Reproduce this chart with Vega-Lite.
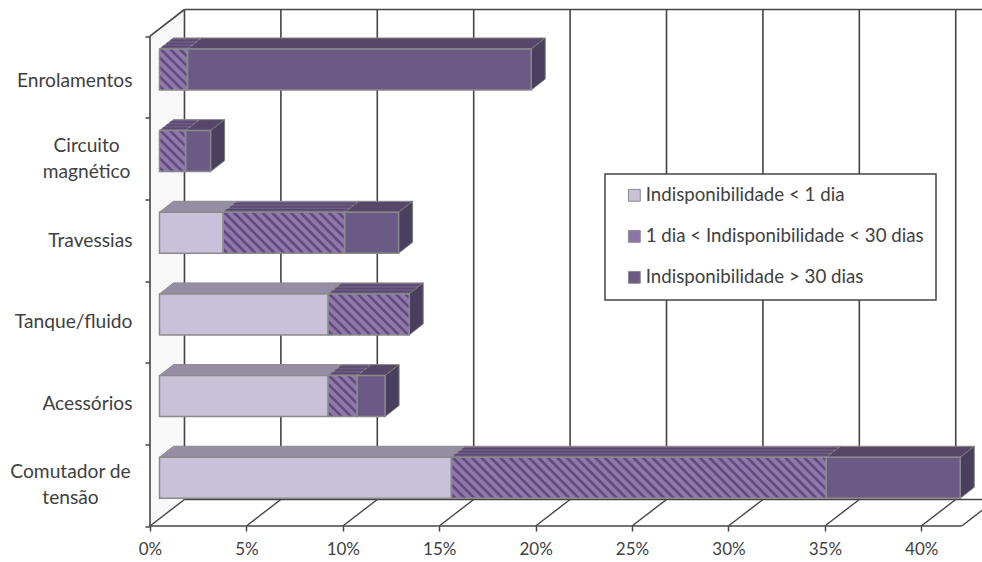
{
"$schema":"https://vega.github.io/schema/vega-lite/v6.json",
"width":832,"height":516.5,"autosize":"none",
"padding":{"left":150,"top":9.5,"right":0,"bottom":36},
"background":"white",
"config":{"view":{"stroke":null},"font":"Lato"},
"data":{"values":[
{"categoria":"Enrolamentos","classe":"1 dia < Indisponibilidade < 30 dias","valor":1.45},
{"categoria":"Enrolamentos","classe":"Indisponibilidade > 30 dias","valor":17.83},
{"categoria":"Circuito magnético","classe":"1 dia < Indisponibilidade < 30 dias","valor":1.35},
{"categoria":"Circuito magnético","classe":"Indisponibilidade > 30 dias","valor":1.3},
{"categoria":"Travessias","classe":"Indisponibilidade < 1 dia","valor":3.3},
{"categoria":"Travessias","classe":"1 dia < Indisponibilidade < 30 dias","valor":6.3},
{"categoria":"Travessias","classe":"Indisponibilidade > 30 dias","valor":2.8},
{"categoria":"Tanque/fluido","classe":"Indisponibilidade < 1 dia","valor":8.75},
{"categoria":"Tanque/fluido","classe":"1 dia < Indisponibilidade < 30 dias","valor":4.2},
{"categoria":"Acessórios","classe":"Indisponibilidade < 1 dia","valor":8.75},
{"categoria":"Acessórios","classe":"1 dia < Indisponibilidade < 30 dias","valor":1.5},
{"categoria":"Acessórios","classe":"Indisponibilidade > 30 dias","valor":1.45},
{"categoria":"Comutador de tensão","classe":"Indisponibilidade < 1 dia","valor":15.14},
{"categoria":"Comutador de tensão","classe":"1 dia < Indisponibilidade < 30 dias","valor":19.44},
{"categoria":"Comutador de tensão","classe":"Indisponibilidade > 30 dias","valor":6.95}
]},
"transform":[
{"calculate":"indexof(['Indisponibilidade < 1 dia','1 dia < Indisponibilidade < 30 dias','Indisponibilidade > 30 dias'],datum.classe)","as":"ordem"},
{"stack":"valor","groupby":["categoria"],"sort":[{"field":"ordem","order":"ascending"}],"as":["ini","fim"]},
{"joinaggregate":[{"op":"max","field":"fim","as":"total"}],"groupby":["categoria"]},
{"calculate":"5-indexof(['Enrolamentos','Circuito magnético','Travessias','Tanque/fluido','Acessórios','Comutador de tensão'],datum.categoria)","as":"linha"},
{"calculate":"datum.ini+0.4925","as":"xa"},
{"calculate":"datum.fim+0.4925","as":"xb"},
{"calculate":"datum.linha+0.3399","as":"yb"},
{"calculate":"datum.yb+0.502","as":"yt"},
{"calculate":"datum.categoria+datum.ordem","as":"chave"}
],
"layer":[
{"data":{"values":[{"d":0},{"d":1}]},
 "transform":[{"calculate":"datum.d*1.788","as":"px"},{"calculate":"datum.d*0.325","as":"py"},{"calculate":"6+datum.d*0.325","as":"py2"}],
 "mark":{"type":"area","orient":"vertical","fill":"#f8f8f8"},
 "encoding":{
  "x":{"field":"px","type":"quantitative","scale":{"domain":[0,43.15],"nice":false,"zero":false},
   "axis":{"title":null,"values":[0,5,10,15,20,25,30,35,40],"labelExpr":"datum.value+'%'","domain":false,"grid":false,"tickSize":5,"tickColor":"#444444","tickWidth":1.5,"labelFontSize":17,"labelColor":"#404040","labelPadding":10,"labelFlush":false,"labelBound":false,"labelOverlap":false}},
  "y":{"field":"py","type":"quantitative","scale":{"domain":[0,6.325],"nice":false,"zero":false},
   "axis":{"title":null,"values":[0,1,1.5,2,2.5,3,3.5,4,5,5.46,6],"labelExpr":"datum.value==5.46?'Enrolamentos':datum.value==3.5?'Travessias':datum.value==2.5?'Tanque/fluido':datum.value==1.5?'Acessórios':''","domain":false,"grid":false,"tickSize":5,"tickColor":"#444444","tickWidth":1.5,"tickOpacity":{"condition":{"test":"datum.value%1==0","value":1},"value":0},"labelFontSize":19.2,"labelColor":"#404040","labelPadding":13,"labelOverlap":false,"labelBound":false,"labelFlush":false,"labelLimit":200}},
  "y2":{"field":"py2"}
 }},
{"data":{"values":[{"v":0},{"v":5},{"v":10},{"v":15},{"v":20},{"v":25},{"v":30},{"v":35},{"v":40}]},
 "transform":[{"calculate":"datum.v+1.788","as":"fundo"}],
 "mark":{"type":"rule","stroke":"#444444","strokeWidth":1.6},
 "encoding":{"x":{"field":"fundo","type":"quantitative"},"y":{"datum":0.325},"y2":{"datum":6.325}}},
{"data":{"values":[{"v":0},{"v":5},{"v":10},{"v":15},{"v":20},{"v":25},{"v":30},{"v":35},{"v":40}]},
 "transform":[{"calculate":"datum.v+1.788","as":"fundo"}],
 "mark":{"type":"rule","stroke":"#444444","strokeWidth":1.4},
 "encoding":{"x":{"field":"v","type":"quantitative"},"x2":{"field":"fundo"},"y":{"datum":0},"y2":{"datum":0.325}}},
{"data":{"values":[{}]},"mark":{"type":"rule","stroke":"#444444","strokeWidth":1.6},
 "encoding":{"x":{"datum":0},"y":{"datum":0},"y2":{"datum":6}}},
{"data":{"values":[{}]},"mark":{"type":"rule","stroke":"#444444","strokeWidth":1.6},
 "encoding":{"x":{"datum":0},"x2":{"datum":1.788},"y":{"datum":6},"y2":{"datum":6.325}}},
{"data":{"values":[{}]},"mark":{"type":"rule","stroke":"#444444","strokeWidth":1.6},
 "encoding":{"x":{"datum":1.788},"x2":{"datum":43.15},"y":{"datum":6.325},"y2":{"datum":6.325}}},
{"data":{"values":[{}]},"mark":{"type":"rule","stroke":"#444444","strokeWidth":1.6},
 "encoding":{"x":{"datum":1.788},"x2":{"datum":43.15},"y":{"datum":0.325},"y2":{"datum":0.325}}},
{"data":{"values":[{}]},"mark":{"type":"rule","stroke":"#444444","strokeWidth":1.6},
 "encoding":{"x":{"datum":0},"x2":{"datum":42.1},"y":{"datum":0},"y2":{"datum":0}}},
{"data":{"values":[{}]},"mark":{"type":"rule","stroke":"#444444","strokeWidth":1.4,"clip":true},
 "encoding":{"x":{"datum":42.1},"x2":{"datum":43.888},"y":{"datum":0},"y2":{"datum":0.325}}},
{"transform":[{"calculate":"[0,1]","as":"t"},{"flatten":["t"]},
  {"calculate":"datum.xa+datum.t*0.7258","as":"tx"},{"calculate":"datum.xb+datum.t*0.7258","as":"tx2"},{"calculate":"datum.yt+datum.t*0.1347","as":"ty"}],
 "mark":{"type":"area","orient":"horizontal","stroke":"#8a8a8a","strokeWidth":1},
 "encoding":{"x":{"field":"tx","type":"quantitative"},"x2":{"field":"tx2"},"y":{"field":"ty","type":"quantitative"},"detail":{"field":"chave"},
  "fill":{"condition":[{"test":"datum.ordem==0","value":"#958da3"},{"test":"datum.ordem==1","value":"#6f5d84"}],"value":"#564668"}}},
{"transform":[{"filter":"datum.ordem==1"},{"calculate":"[0.22,0.5,0.78]","as":"t"},{"flatten":["t"]},
  {"calculate":"datum.xa+datum.t*0.7258","as":"tx"},{"calculate":"datum.xb+datum.t*0.7258","as":"tx2"},{"calculate":"datum.yt+datum.t*0.1347","as":"ty"}],
 "mark":{"type":"rule","stroke":"#5a4a70","strokeWidth":1.5},
 "encoding":{"x":{"field":"tx","type":"quantitative"},"x2":{"field":"tx2"},"y":{"field":"ty","type":"quantitative"},"y2":{"field":"ty"}}},
{"transform":[{"filter":"datum.fim==datum.total"},{"calculate":"[0,1]","as":"t"},{"flatten":["t"]},
  {"calculate":"datum.xb+datum.t*0.7258","as":"sx"},{"calculate":"datum.yb+datum.t*0.1347","as":"sy"},{"calculate":"datum.yt+datum.t*0.1347","as":"sy2"}],
 "mark":{"type":"area","orient":"vertical","fill":"#4a3f5e","stroke":"#7a7a7a","strokeWidth":1},
 "encoding":{"x":{"field":"sx","type":"quantitative"},"y":{"field":"sy","type":"quantitative"},"y2":{"field":"sy2"},"detail":{"field":"categoria"}}},
{"transform":[{"filter":"datum.ordem==1"}],
 "mark":{"type":"rect","fill":"#9078ab"},
 "encoding":{"x":{"field":"xa","type":"quantitative"},"x2":{"field":"xb"},"y":{"field":"yb","type":"quantitative"},"y2":{"field":"yt"}}},
{"transform":[{"filter":"datum.ordem==1"},
  {"calculate":"[0,1,2,3,4,5,6,7,8,9,10,11,12,13,14,15,16,17,18,19,20,21,22,23,24,25,26,27,28,29,30,31,32,33,34,35,36,37,38,39,40,41,42,43,44,45]","as":"k"},{"flatten":["k"]},
  {"calculate":"(datum.xb-datum.xa)*19.28","as":"w"},
  {"calculate":"datum.k*9.5+4-41","as":"c"},
  {"filter":"datum.c<datum.w"},
  {"calculate":"max(0,-datum.c)","as":"s1"},
  {"calculate":"min(41,datum.w-datum.c)","as":"s2"},
  {"calculate":"datum.xa+(datum.c+datum.s1)/19.28","as":"hx"},
  {"calculate":"datum.xa+(datum.c+datum.s2)/19.28","as":"hx2"},
  {"calculate":"datum.yt-datum.s1/81.66","as":"hy"},
  {"calculate":"datum.yt-datum.s2/81.66","as":"hy2"}],
 "mark":{"type":"rule","stroke":"#604c80","strokeWidth":2.6},
 "encoding":{"x":{"field":"hx","type":"quantitative"},"x2":{"field":"hx2"},"y":{"field":"hy","type":"quantitative"},"y2":{"field":"hy2"}}},
{"transform":[{"filter":"datum.ordem!=1"}],
 "mark":{"type":"rect"},
 "encoding":{"x":{"field":"xa","type":"quantitative"},"x2":{"field":"xb"},"y":{"field":"yb","type":"quantitative"},"y2":{"field":"yt"},
  "fill":{"field":"classe","type":"nominal",
   "scale":{"domain":["Indisponibilidade < 1 dia","1 dia < Indisponibilidade < 30 dias","Indisponibilidade > 30 dias"],
    "range":["#c9c0da","#8c76a8","#6b5a85"]},
   "legend":{"title":null,"orient":"none","legendX":455,"legendY":164.5,"padding":12,"fillColor":"white","strokeColor":"#444444","symbolType":"square","symbolSize":140,"symbolOffset":8,"symbolStrokeColor":"#8a8a8a","symbolStrokeWidth":1,"labelFontSize":18.7,"labelColor":"#404040","labelOffset":2,"rowPadding":21,"labelLimit":400,
    "encoding":{"legend":{"strokeWidth":{"value":1.5}},"symbols":{"stroke":{"value":"#8a8a8a"},"strokeWidth":{"value":1},"fill":{"condition":[{"test":"datum.value=='Indisponibilidade < 1 dia'","value":"#c9c0da"},{"test":"datum.value=='1 dia < Indisponibilidade < 30 dias'","value":{"gradient":"linear","x1":0,"y1":1,"x2":1,"y2":0,"stops":[{"offset":0,"color":"#5f4b7e"},{"offset":0.3,"color":"#5f4b7e"},{"offset":0.3,"color":"#a896bf"},{"offset":0.65,"color":"#a896bf"},{"offset":0.65,"color":"#5f4b7e"},{"offset":1,"color":"#5f4b7e"}]}}],"value":"#6b5a85"}}}}}}},
{"mark":{"type":"rect","fillOpacity":0,"stroke":"#8a8a8a","strokeWidth":1.5},
 "encoding":{"x":{"field":"xa","type":"quantitative"},"x2":{"field":"xb"},"y":{"field":"yb","type":"quantitative"},"y2":{"field":"yt"}}},
{"transform":[{"filter":"datum.ordem==1&&(datum.linha==4||datum.linha==0)"},
  {"calculate":"datum.linha==4?'Circuito\\nmagnético':'Comutador de\\ntensão'","as":"rotulo"},
  {"calculate":"datum.linha==4?-3.29:-4.12","as":"lx"},
  {"calculate":"datum.linha+0.659","as":"ly"}],
 "mark":{"type":"text","align":"center","baseline":"middle","lineBreak":"\n","lineHeight":26,"fontSize":19.2,"fill":"#404040"},
 "encoding":{"x":{"field":"lx","type":"quantitative"},"y":{"field":"ly","type":"quantitative"},"text":{"field":"rotulo"}}}
]
}
